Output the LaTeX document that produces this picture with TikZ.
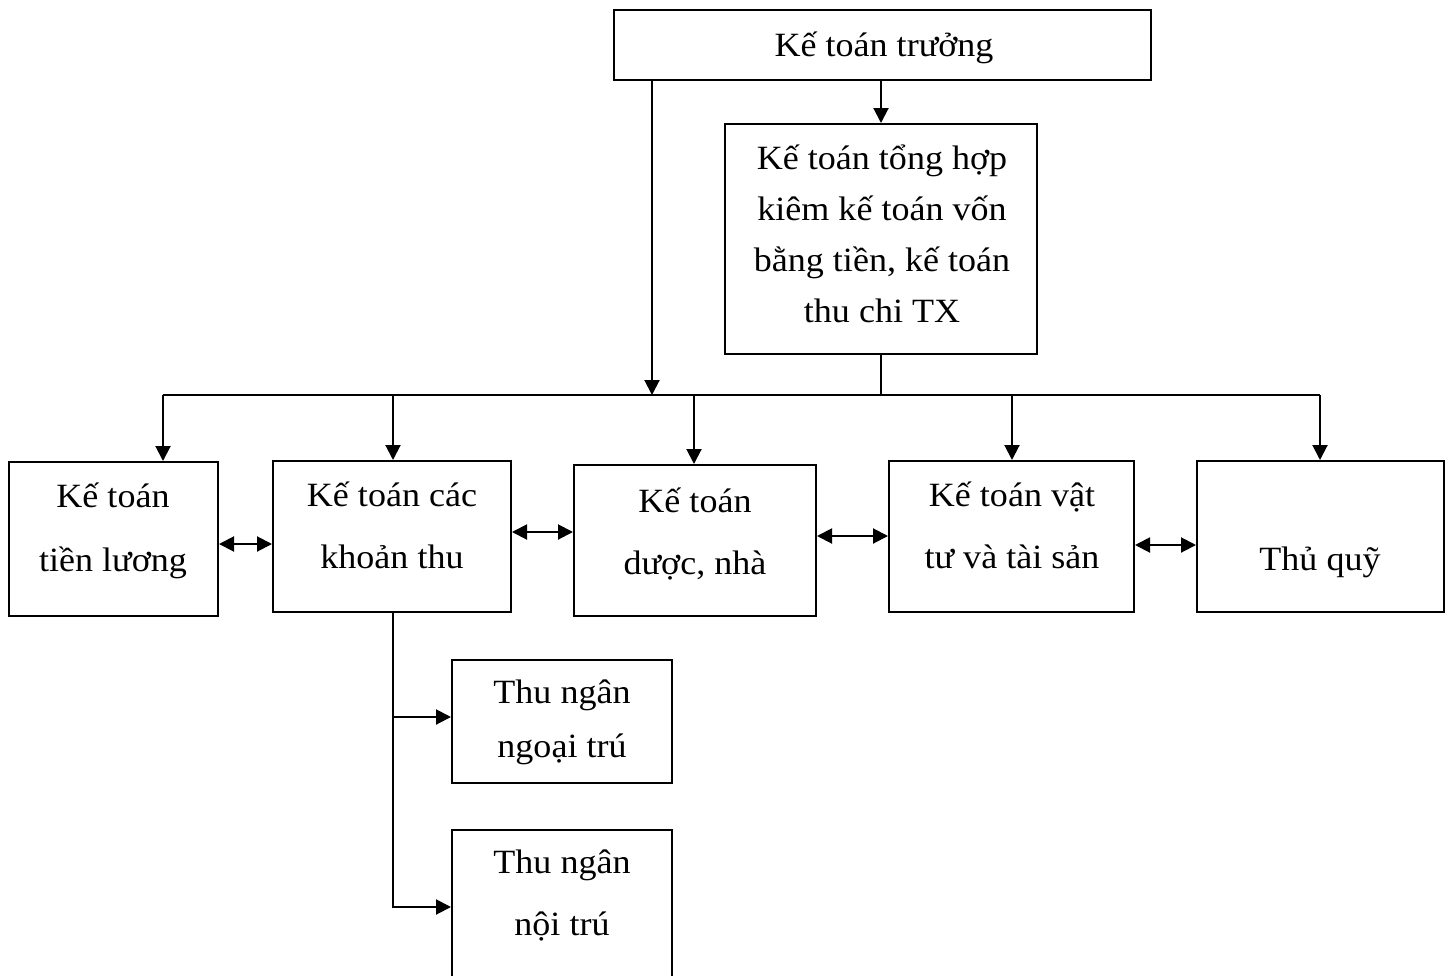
\documentclass[tikz,border=0pt]{standalone}
\usepackage{fontspec}
\setmainfont{Liberation Serif}[FakeStretch=1.06]
\usetikzlibrary{arrows.meta}
\tikzset{
  box/.style={draw, line width=2pt, inner sep=0pt, rectangle},
  txt/.style={inner sep=0pt, align=center, anchor=north},
  tip/.style={Triangle[length=15pt,width=15pt]},
  arr/.style={line width=2pt, -{Triangle[length=15pt,width=15pt]}},
  dbl/.style={line width=2pt, {Triangle[length=15pt,width=15pt]}-{Triangle[length=15pt,width=15pt]}},
  link/.style={line width=2pt}
}
% text block: name, x, first baseline, line skip, lines
\newcommand\boxtext[5]{%
  \node[txt, font=\fontsize{34}{#4}\selectfont] (#1) at (#2,{#3-0.7*#4}) {#5};}
\begin{document}
\begin{tikzpicture}[x=1pt,y=-1pt]
\useasboundingbox (0,0) rectangle (1449,975);
\clip (0,0) rectangle (1449,975);

% boxes
\node[box, minimum width=537pt, minimum height=70pt]  (top)  at (882.5,45) {};
\node[box, minimum width=312pt, minimum height=230pt] (tall) at (881,239) {};
\node[box, minimum width=209pt, minimum height=154pt] (b1) at (113.5,539) {};
\node[box, minimum width=238pt, minimum height=151pt] (b2) at (392,536.5) {};
\node[box, minimum width=242pt, minimum height=151pt] (b3) at (695,540.5) {};
\node[box, minimum width=245pt, minimum height=151pt] (b4) at (1011.5,536.5) {};
\node[box, minimum width=247pt, minimum height=151pt] (b5) at (1320.5,536.5) {};
\node[box, minimum width=220pt, minimum height=123pt] (b6) at (562,721.5) {};
\node[box, minimum width=220pt, minimum height=170pt] (b7) at (562,915) {};

% labels
\boxtext{ttop}{884}{56}{52}{\strut Kế toán trưởng}
\boxtext{ttall}{882}{169}{51}{\strut Kế toán tổng hợp\\\strut kiêm kế toán vốn\\\strut bằng tiền, kế toán\\\strut thu chi TX}
\boxtext{t1}{113}{507}{64}{\strut Kế toán\\\strut tiền lương}
\boxtext{t2}{392}{506}{62}{\strut Kế toán các\\\strut khoản thu}
\boxtext{t3}{695}{512}{62}{\strut Kế toán\\\strut dược, nhà}
\boxtext{t4}{1012}{506}{62}{\strut Kế toán vật\\\strut tư và tài sản}
\boxtext{t5}{1320}{570}{62}{\strut Thủ quỹ}
\boxtext{t6}{562}{703}{54}{\strut Thu ngân\\\strut ngoại trú}
\boxtext{t7}{562}{873}{62}{\strut Thu ngân\\\strut nội trú}

% distribution bus
\coordinate (busL) at (163,395);
\coordinate (busR) at (1320,395);
\coordinate (k)  at (652,395);
\coordinate (d2) at (393,395);
\coordinate (d3) at (694,395);
\coordinate (d4) at (1012,395);
\draw[link] (busL) -- (busR);

% from the chief accountant
\draw[arr] (k |- top.south) -- (k);
\draw[arr] (tall.north |- top.south) -- (tall.north);
\draw[link] (tall.south) -- (tall.south |- busL);

% drops to the departments
\draw[arr] (busL) -- (busL |- b1.north);
\draw[arr] (d2) -- (d2 |- b2.north);
\draw[arr] (d3) -- (d3 |- b3.north);
\draw[arr] (d4) -- (d4 |- b4.north);
\draw[arr] (busR) -- (busR |- b5.north);

% links between neighbours
\coordinate (r12) at (0,544);
\coordinate (r23) at (0,532);
\coordinate (r34) at (0,536);
\coordinate (r45) at (0,545);
\draw[dbl] (b1.east |- r12) -- (b2.west |- r12);
\draw[dbl] (b2.east |- r23) -- (b3.west |- r23);
\draw[dbl] (b3.east |- r34) -- (b4.west |- r34);
\draw[dbl] (b4.east |- r45) -- (b5.west |- r45);

% cashiers under the revenue accountant
\coordinate (j6) at (393,717);
\coordinate (j7) at (393,907);
\draw[link] (j6 |- b2.south) -- (j6);
\draw[arr] (j6) -- (j6 -| b6.west);
\draw[arr] (j6) -- (j7) -- (j7 -| b7.west);
\end{tikzpicture}
\end{document}
